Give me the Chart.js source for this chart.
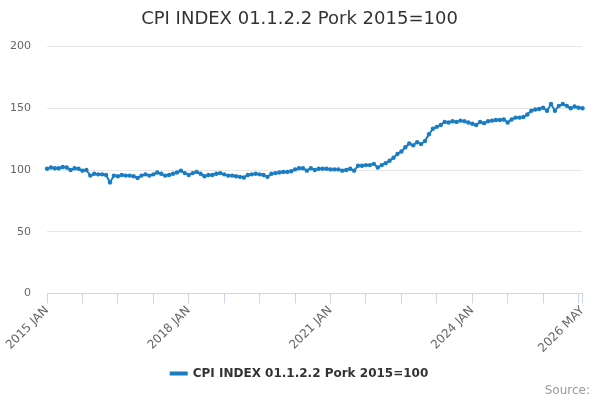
<!DOCTYPE html>
<html lang="en">
<head>
    <meta charset="UTF-8">
    <title>CPI INDEX 01.1.2.2 Pork 2015=100</title>
    <style>
        html, body { margin: 0; padding: 0; background: #fff; }
        #wrap { width: 600px; height: 400px; }
    </style>
</head>
<body>
    <div id="wrap"><canvas id="grafica" width="600" height="400"></canvas></div>

    <script src="https://cdn.jsdelivr.net/npm/chart.js@4.4.1/dist/chart.umd.min.js"></script>
    <script>
        // Months and years on the x axis
        const meses = ["JAN", "FEB", "MAR", "APR", "MAY", "JUN", "JUL", "AUG", "SEP", "OCT", "NOV", "DEC"];
        const anios = [2015, 2016, 2017, 2018, 2019, 2020, 2021, 2022, 2023, 2024, 2025, 2026];

        // Index values, one row per year (2026 up to MAY)
        const valores2015 = [101, 102, 101.5, 101.5, 102.5, 102, 100, 101.5, 101, 99.5, 100, 95.5];
        const valores2016 = [97, 96.5, 96.5, 96, 90, 95.5, 95, 96, 95.5, 95.5, 95, 93.5];
        const valores2017 = [95.5, 96.5, 95.5, 96.5, 98, 97, 95.5, 96, 97, 98, 99.5, 97.5];
        const valores2018 = [96, 97.5, 98.5, 97, 95, 96, 96, 97, 97.5, 96.5, 95.5, 95.5];
        const valores2019 = [95, 94.5, 94, 96, 96.5, 97, 96.5, 96, 94.5, 97, 97.5, 98];
        const valores2020 = [98.5, 98.5, 99, 100.5, 101.5, 101.5, 99.5, 101.5, 100, 101, 101, 101];
        const valores2021 = [100.5, 100.5, 100.5, 99.5, 100, 101, 99.5, 103.5, 103.5, 104, 104, 105];
        const valores2022 = [102, 104, 105.5, 107.5, 110, 113, 115, 118.5, 121.5, 120, 122.5, 121];
        const valores2023 = [123.5, 129, 133.5, 135, 136.5, 139, 138.5, 139.5, 139, 140, 139.5, 138.5];
        const valores2024 = [137.5, 136.5, 139, 138, 139.5, 140, 140.5, 140.5, 141, 138.5, 141, 142.5];
        const valores2025 = [142.5, 143, 145, 148, 149, 149.5, 150.5, 148, 153.5, 148, 152, 153.5];
        const valores2026 = [152, 150, 151.5, 150.5, 150];

        const serie = [].concat(valores2015, valores2016, valores2017, valores2018, valores2019, valores2020,
            valores2021, valores2022, valores2023, valores2024, valores2025, valores2026);

        const etiquetas = [];
        anios.forEach((anio) => {
            meses.forEach((mes) => {
                if (etiquetas.length < serie.length) etiquetas.push(anio + " " + mes);
            });
        });

        const ultimo = etiquetas.length - 1;
        const azul = "#1a7dc4";

        Chart.defaults.font.family = "'DejaVu Sans', sans-serif";

        new Chart(document.getElementById("grafica"), {
            type: "line",
            data: {
                labels: etiquetas,
                datasets: [{
                    label: "CPI INDEX 01.1.2.2 Pork 2015=100",
                    data: serie,
                    borderColor: azul,
                    backgroundColor: azul,
                    borderWidth: 2,
                    pointRadius: 2.2,
                    pointBorderWidth: 0,
                    pointHoverRadius: 3,
                    tension: 0
                }]
            },
            options: {
                responsive: false,
                animation: false,
                layout: { padding: { left: 9, right: 10, top: 4, bottom: 2 } },
                plugins: {
                    title: {
                        display: true,
                        text: "CPI INDEX 01.1.2.2 Pork 2015=100",
                        color: "#333333",
                        font: { size: 18, weight: "normal" },
                        padding: { top: 5, bottom: 16 }
                    },
                    subtitle: {
                        display: true,
                        text: "Source:",
                        position: "bottom",
                        align: "end",
                        color: "#999999",
                        font: { size: 12, weight: "normal" },
                        // negative top padding pulls the legend closer to "Source:"
                        padding: { top: -6, bottom: 0 }
                    },
                    legend: {
                        position: "bottom",
                        labels: {
                            color: "#333333",
                            font: { size: 12, weight: "bold" },
                            boxWidth: 16,
                            boxHeight: 2,
                            padding: 2
                        }
                    },
                    tooltip: { enabled: false }
                },
                scales: {
                    x: {
                        offset: false,
                        border: { display: true, color: "#ccd6eb" },
                        grid: {
                            drawOnChartArea: false,
                            tickLength: 10,
                            tickColor: (ctx) => (ctx.index % 9 === 0 || ctx.index === ultimo) ? "#ccd6eb" : "rgba(0,0,0,0)"
                        },
                        ticks: {
                            autoSkip: false,
                            maxRotation: 45,
                            minRotation: 45,
                            color: "#666666",
                            font: { size: 12 },
                            padding: 0,
                            callback: function (valor, indice) {
                                return (indice % 36 === 0 || indice === ultimo) ? etiquetas[indice] : "";
                            }
                        },
                        afterFit: (escala) => {
                            escala.paddingLeft = 0;
                            escala.paddingRight = 17.5;
                            escala.height += 10;
                        }
                    },
                    y: {
                        min: 0,
                        max: 200,
                        border: { display: false },
                        grid: { color: "#e6e6e6", drawTicks: false },
                        ticks: {
                            stepSize: 50,
                            color: "#666666",
                            font: { size: 11 },
                            padding: 16
                        },
                        afterFit: (escala) => {
                            escala.width = 38;
                        }
                    }
                }
            }
        });
    </script>
</body>
</html>
